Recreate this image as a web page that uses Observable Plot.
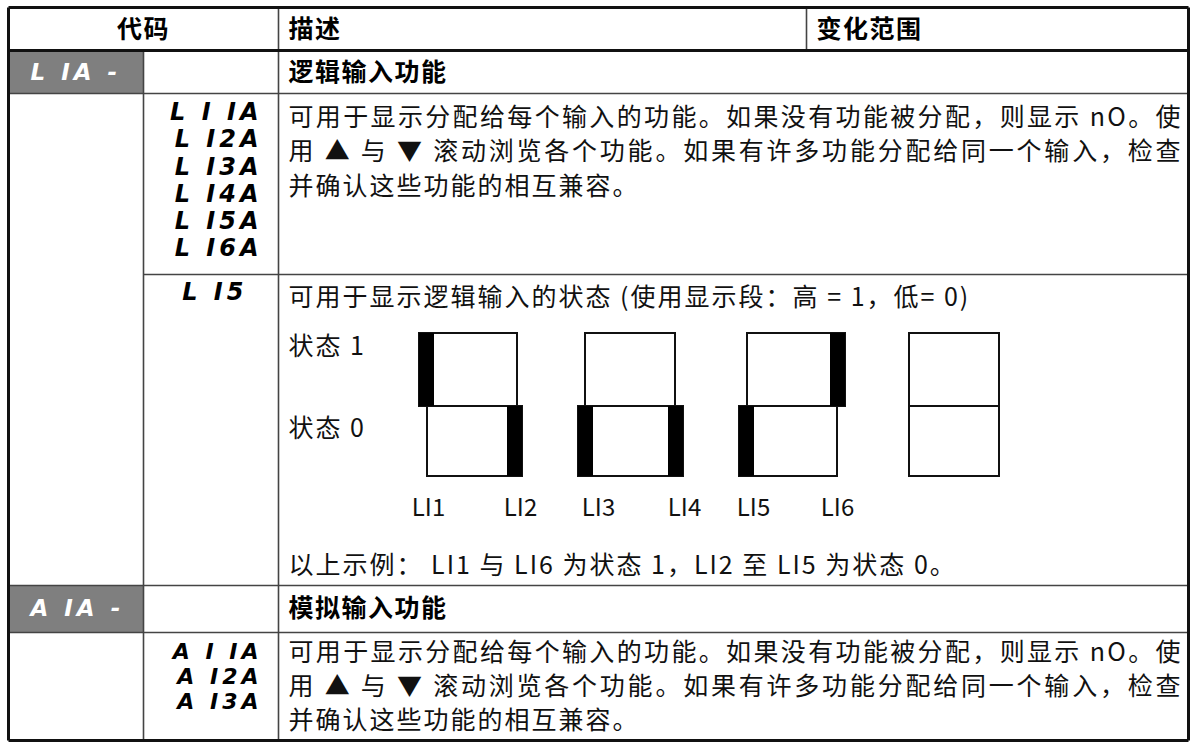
<!DOCTYPE html>
<html><head><meta charset="utf-8">
<script src="https://cdn.jsdelivr.net/npm/d3@7"></script>
<script src="https://cdn.jsdelivr.net/npm/@observablehq/plot@0.6"></script>
<style>html,body{margin:0;padding:0;background:#fff}</style>
</head><body><div id="chart"></div>
<script>
// ---------- data (content) ----------
const headers = ["代码", "描述", "变化范围"];
const groupCodes = ["L IA -", "A IA -"];
const groupTitles = ["逻辑输入功能", "模拟输入功能"];
const logicCodes = ["L I IA", "L I2A", "L I3A", "L I4A", "L I5A", "L I6A"];
const analogCodes = ["A I IA", "A I2A", "A I3A"];
const stateCode = ["L I5"];
const assignText = [
  "可用于显示分配给每个输入的功能。如果没有功能被分配，则显示 nO。使",
  "用 ▲ 与 ▼ 滚动浏览各个功能。如果有许多功能分配给同一个输入，检查",
  "并确认这些功能的相互兼容。"
];
const stateIntro = ["可用于显示逻辑输入的状态 (使用显示段：高 = 1，低= 0)"];
const stateLabels = ["状态 1", "状态 0"];
const inputs = ["LI1", "LI2", "LI3", "LI4", "LI5", "LI6"];
const inputStates = [1, 0, 0, 0, 0, 1];
const exampleText = ["以上示例： LI1 与 LI6 为状态 1，LI2 至 LI5 为状态 0。"];

// ---------- layout ----------
const W = 1197, H = 743;
const T = {left: 8, right: 1188, top: 7, bottom: 740, c1: 143, c2: 278, c3: 806,
           r1: 50, r2: 93, r3: 274, r4: 585, r5: 632};
const textX = 288, justifyW = 892;
const dig = {top: 333, mid: 406, bot: 476, bar: 15};
const upperBox = [[419, 517], [585, 675], [747, 845], [909, 999]];
const lowerBox = [[427, 522], [578, 683], [739, 837], [909, 999]];
const labelX = [428, 520, 598, 684, 753, 837];
const labelY = 508;

const CJK = "'Noto Sans CJK SC', 'Noto Sans', sans-serif";
const SEG = "'DejaVu Sans', sans-serif";

// table lines
const thick = [
  {x1: T.left, y1: T.top, x2: T.right, y2: T.top},
  {x1: T.left, y1: T.bottom, x2: T.right, y2: T.bottom},
  {x1: T.left, y1: T.top, x2: T.left, y2: T.bottom},
  {x1: T.right, y1: T.top, x2: T.right, y2: T.bottom},
  {x1: T.left, y1: T.r1, x2: T.right, y2: T.r1}
];
const thin = [
  {x1: T.left, y1: T.r2, x2: T.right, y2: T.r2},
  {x1: T.c1, y1: T.r3, x2: T.right, y2: T.r3},
  {x1: T.left, y1: T.r4, x2: T.right, y2: T.r4},
  {x1: T.left, y1: T.r5, x2: T.right, y2: T.r5},
  {x1: T.c1, y1: T.r1, x2: T.c1, y2: T.bottom},
  {x1: T.c2, y1: T.top, x2: T.c2, y2: T.bottom},
  {x1: T.c3, y1: T.top, x2: T.c3, y2: T.r1}
];
const grayCells = [
  {x1: T.left, x2: T.c1, y1: T.r1, y2: T.r2},
  {x1: T.left, x2: T.c1, y1: T.r4, y2: T.r5}
];

// digit boxes
const boxes = [];
upperBox.forEach(([a, b]) => boxes.push({x1: a, x2: b, y1: dig.top, y2: dig.mid}));
lowerBox.forEach(([a, b]) => boxes.push({x1: a, x2: b, y1: dig.mid, y2: dig.bot}));
// active segments derived from the input states
const bars = inputs.map((name, i) => {
  const d = Math.floor(i / 2), side = i % 2, st = inputStates[i];
  const [a, b] = st === 1 ? upperBox[d] : lowerBox[d];
  const x1 = side === 0 ? a : b - dig.bar, x2 = side === 0 ? a + dig.bar : b;
  return st === 1 ? {x1, x2, y1: dig.top, y2: dig.mid} : {x1, x2, y1: dig.mid, y2: dig.bot};
});

const groupY = [72, 608];
const just = [
  {t: assignText[0], y: 117}, {t: assignText[1], y: 151},
  {t: assignText[0], y: 652}, {t: assignText[1], y: 686}
];
const body = [
  {t: assignText[2], y: 186}, {t: assignText[2], y: 720},
  {t: stateIntro[0], y: 297},
  {t: stateLabels[0], y: 346}, {t: stateLabels[1], y: 428},
  {t: exampleText[0], y: 565}
];
const logicRows = logicCodes.map((t, i) => ({t, y: 112 + i * 27.2}));
const analogRows = analogCodes.map((t, i) => ({t, y: 651 + i * 25}));

const segStyle = {fontFamily: SEG, fontWeight: "bold", fontStyle: "oblique", fill: "#000"};

const svg = Plot.plot({
  width: W, height: H, margin: 0,
  x: {domain: [0, W], range: [0, W], axis: null},
  y: {domain: [0, H], range: [0, H], axis: null},
  style: {background: "#fff", overflow: "visible"},
  marks: [
    Plot.rect(grayCells, {x1: "x1", x2: "x2", y1: "y1", y2: "y2", fill: "#7f7f7f"}),
    Plot.link(thin, {x1: "x1", y1: "y1", x2: "x2", y2: "y2", stroke: "#444", strokeWidth: 1.6}),
    Plot.link(thick, {x1: "x1", y1: "y1", x2: "x2", y2: "y2", stroke: "#111", strokeWidth: 3}),
    Plot.rect(boxes, {x1: "x1", x2: "x2", y1: "y1", y2: "y2", fill: "none", stroke: "#111", strokeWidth: 2}),
    Plot.rect(bars, {x1: "x1", x2: "x2", y1: "y1", y2: "y2", fill: "#000"}),
    Plot.text([headers[0]], {x: () => (T.left + T.c2) / 2, y: () => 29, text: d => d, textAnchor: "middle", fontFamily: CJK, fontWeight: "bold", fontSize: 25, fill: "#000"}),
    Plot.text([headers[1]], {x: () => textX, y: () => 29, text: d => d, textAnchor: "start", fontFamily: CJK, fontWeight: "bold", fontSize: 25, fill: "#000"}),
    Plot.text([headers[2]], {x: () => T.c3 + 10, y: () => 29, text: d => d, textAnchor: "start", fontFamily: CJK, fontWeight: "bold", fontSize: 25, fill: "#000"}),
    Plot.text(groupTitles, {x: () => textX, y: (d, i) => groupY[i], text: d => d, textAnchor: "start", fontFamily: CJK, fontWeight: "bold", fontSize: 25, fill: "#000"}),
    Plot.text(groupCodes, {x: () => 30, y: (d, i) => groupY[i], text: d => d, textAnchor: "start", ...segStyle, fill: "#fff", fontSize: 23}),
    Plot.text(logicRows, {x: () => 262, y: "y", text: "t", textAnchor: "end", ...segStyle, fontSize: 24}),
    Plot.text(stateCode, {x: () => 247, y: () => 292, text: d => d, textAnchor: "end", ...segStyle, fontSize: 24}),
    Plot.text(analogRows, {x: () => 262, y: "y", text: "t", textAnchor: "end", ...segStyle, fontSize: 22}),
    Plot.text(just, {x: () => textX, y: "y", text: "t", textAnchor: "start", fontFamily: CJK, fontSize: 25, fill: "#111"}),
    Plot.text(body, {x: () => textX, y: "y", text: "t", textAnchor: "start", fontFamily: CJK, fontSize: 25, fill: "#111"}),
    Plot.text(inputs, {x: (d, i) => labelX[i], y: () => labelY, text: d => d, textAnchor: "middle", fontFamily: CJK, fontSize: 24, fill: "#111"})
  ]
});

// typographic spacing (justified lines, letter spacing) applied after rendering
const justSet = new Set([assignText[0], assignText[1]]);
const bodySet = new Set([assignText[2], stateIntro[0], ...stateLabels, exampleText[0]]);
const hdrSet = new Set([...headers, ...groupTitles]);
const segSet = new Set([...logicCodes, ...analogCodes, ...stateCode]);
const grpSet = new Set(groupCodes);
d3.select(svg).selectAll("text").each(function () {
  const t = this.textContent, s = d3.select(this);
  if (justSet.has(t)) s.attr("textLength", justifyW).attr("lengthAdjust", "spacing");
  else if (bodySet.has(t)) s.style("letter-spacing", "2px");
  else if (hdrSet.has(t)) s.style("letter-spacing", "1.5px");
  else if (segSet.has(t)) s.style("letter-spacing", "4px");
  else if (grpSet.has(t)) s.style("letter-spacing", "4px");
});
document.getElementById("chart").appendChild(svg);
</script>
</body></html>
